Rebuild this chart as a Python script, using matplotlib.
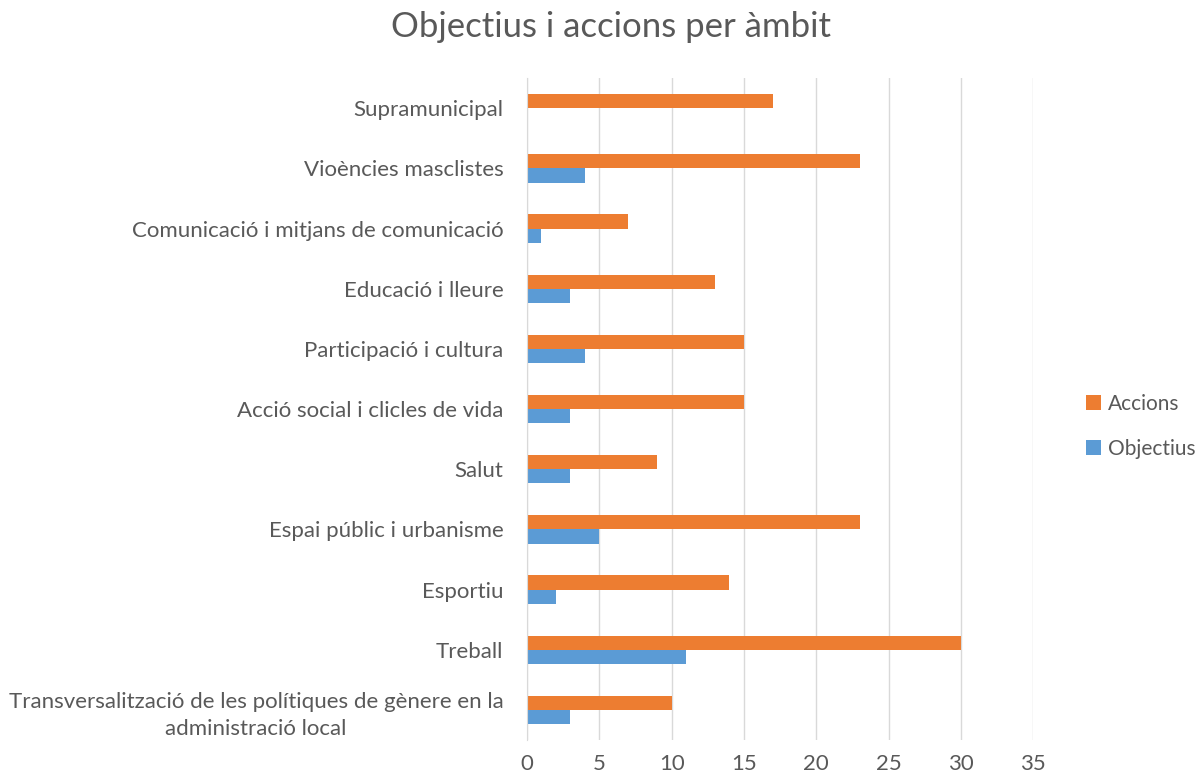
import matplotlib
matplotlib.use("Agg")
import matplotlib.pyplot as plt
import numpy as np

categories = [
    "Transversalització de les polítiques de gènere en la\nadministració local",
    "Treball",
    "Esportiu",
    "Espai públic i urbanisme",
    "Salut",
    "Acció social i clicles de vida",
    "Participació i cultura",
    "Educació i lleure",
    "Comunicació i mitjans de comunicació",
    "Vioències masclistes",
    "Supramunicipal",
]
accions = [10, 30, 14, 23, 9, 15, 15, 13, 7, 23, 17]
objectius = [3, 11, 2, 5, 3, 3, 4, 3, 1, 4, 0]
xticks = [0, 5, 10, 15, 20, 25, 30, 35]

plt.rcParams['font.family'] = ['Lato', 'DejaVu Sans']

fig = plt.figure(figsize=(12.01, 7.74), dpi=100)
ax = fig.add_axes([0.4388, 0.044, 0.4215, 0.855])

y = np.arange(len(categories))
h = 0.235
ax.barh(y + h / 2, accions, height=h, color="#ED7D31", label="Accions", zorder=3)
ax.barh(y - h / 2, objectius, height=h, color="#5B9BD5", label="Objectius", zorder=3)

ax.set_xlim(0, 35)
ax.set_ylim(-0.5, len(categories) - 0.5)
ax.set_xticks(xticks)
ax.set_yticks(y)
ax.set_yticklabels(categories, fontsize=16, color="#595959", ha="right",
                   multialignment="center", linespacing=1.45)
ax.tick_params(axis="y", length=0, pad=17)
ax.tick_params(axis="x", length=0, labelsize=16, labelcolor="#595959", pad=10)
ax.grid(axis="x", color="#D9D9D9", linewidth=1, zorder=0)
for s in ["top", "right", "bottom"]:
    ax.spines[s].set_visible(False)
ax.spines["left"].set_color("#D9D9D9")
ax.spines["left"].set_zorder(4)

handles, labels = ax.get_legend_handles_labels()
fig.legend(handles, labels, loc="center left", bbox_to_anchor=(0.9045, 0.4495),
           frameon=False, fontsize=15, labelcolor="#595959",
           handlelength=0.7, handleheight=0.7, handletextpad=0.35, labelspacing=1.2,
           borderpad=0, borderaxespad=0)

fig.text(0.509, 0.965, "Objectius i accions per àmbit", ha="center", va="center",
         fontsize=25, color="#595959")

fig.savefig("out.png", dpi=100)
